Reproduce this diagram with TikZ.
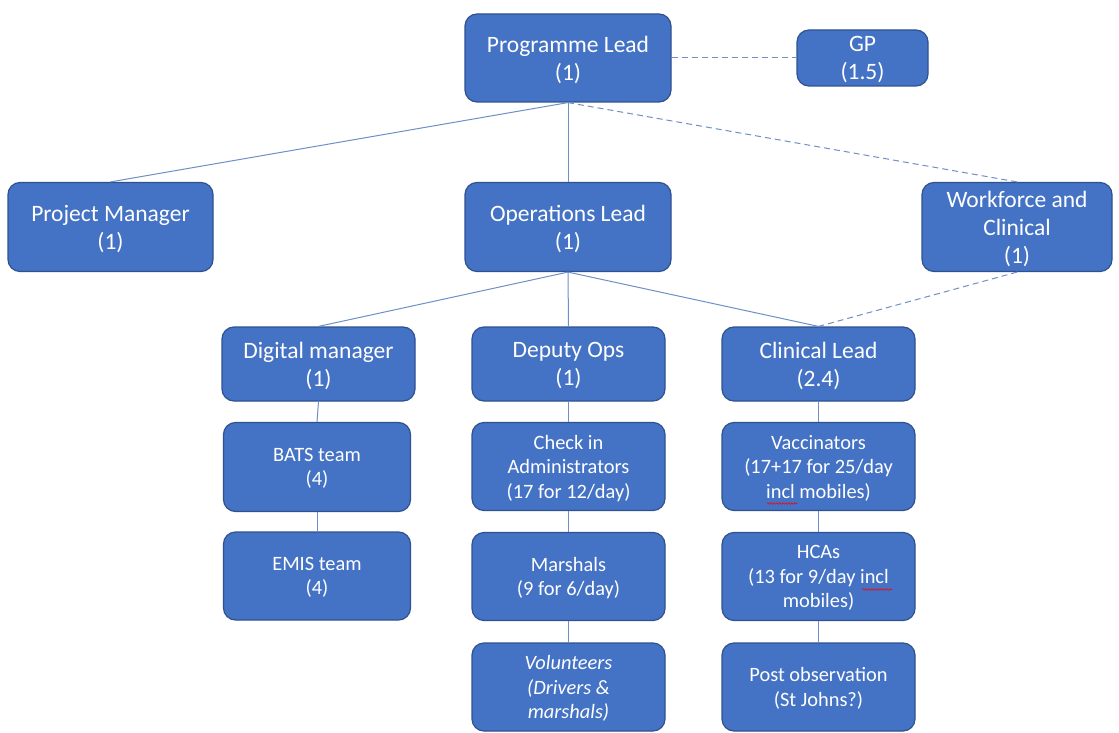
\documentclass[tikz,border=0pt]{standalone}
\usepackage{xcolor}
\usepackage{fontspec}
\setmainfont{Carlito}
\usetikzlibrary{decorations.pathmorphing}
\definecolor{boxfill}{HTML}{4472C4}
\definecolor{boxline}{HTML}{2F528F}
\definecolor{linkcol}{HTML}{6F8FC8}

\begin{document}
\begin{tikzpicture}[x=1pt,y=-1pt,
    box/.style={draw=boxline, fill=boxfill, line width=1.2pt, rounded corners=12pt,
      text=white, align=center, inner sep=0pt, text depth=-6pt},
    bigbox/.style={box, font=\fontsize{23.5}{28}\selectfont},
    smallbox/.style={box, font=\fontsize{20.4}{24.5}\selectfont},
    link/.style={draw=linkcol, line width=1pt},
    dlink/.style={link, dash pattern=on 6pt off 4pt},
    spellwave/.style={draw=red, line width=0.6pt, decorate,
      decoration={snake, amplitude=0.8pt, segment length=3pt}}]
    \useasboundingbox[fill=white] (0,0) rectangle (1119,733);

    % 第一层
    \node[bigbox, minimum width=206pt, minimum height=88pt] (prog) at (568,58) {Programme Lead\\(1)};
    \node[bigbox, minimum width=131pt, minimum height=56pt] (gp) at (862.5,58) {GP\\(1.5)};

    % 第二层
    \node[bigbox, minimum width=205pt, minimum height=89pt] (pm) at (110.5,227) {Project Manager\\(1)};
    \node[bigbox, minimum width=206pt, minimum height=89pt] (ops) at (568,227) {Operations Lead\\(1)};
    \node[bigbox, minimum width=190pt, minimum height=89pt] (wf) at (1017,227) {Workforce and\\Clinical\\(1)};

    % 第三层
    \node[bigbox, minimum width=193pt, minimum height=74pt] (dig) at (318.5,364) {Digital manager\\(1)};
    \node[bigbox, minimum width=193pt, minimum height=74pt] (dep) at (568.5,364) {Deputy Ops\\(1)};
    \node[bigbox, minimum width=193pt, minimum height=74pt] (cl) at (818.5,364) {Clinical Lead\\(2.4)};

    % 各组成员
    \node[smallbox, minimum width=187pt, minimum height=89pt] (bats) at (317,467) {BATS team\\(4)};
    \node[smallbox, minimum width=187pt, minimum height=88pt] (emis) at (317,576) {EMIS team\\(4)};
    \node[smallbox, minimum width=193pt, minimum height=88pt] (chk) at (568.5,466.5) {Check in\\Administrators\\(17 for 12/day)};
    \node[smallbox, minimum width=193pt, minimum height=88pt] (mar) at (568.5,576.5) {Marshals\\(9 for 6/day)};
    \node[smallbox, minimum width=193pt, minimum height=88pt, font=\fontsize{20.4}{24.5}\selectfont\itshape] (vol) at (568.5,687) {Volunteers\\(Drivers \&\\marshals)};
    \node[smallbox, minimum width=193pt, minimum height=88pt] (vac) at (818.5,466.5) {Vaccinators\\(17+17 for 25/day\\incl mobiles)};
    \node[smallbox, minimum width=193pt, minimum height=88pt] (hca) at (818.5,576.5) {HCAs\\(13 for 9/day incl\\mobiles)};
    \node[smallbox, minimum width=193pt, minimum height=88pt] (post) at (818.5,687) {Post observation\\(St Johns?)};

    % 拼写标记
    \draw[spellwave] (767,503.5) -- (797,503.5);
    \draw[spellwave] (862,589.5) -- (892,589.5);

    % 连线
    \draw[dlink] (prog.east) -- (gp.west);
    \draw[link] (prog.south) -- (pm.north);
    \draw[link] (prog.south) -- (ops.north);
    \draw[dlink] (prog.south) -- (wf.north);
    \draw[link] (ops.south) -- (dig.north);
    \draw[link] (ops.south) -- (dep.north);
    \draw[link] (ops.south) -- (cl.north);
    \draw[dlink] (wf.south) -- (cl.north);
    \draw[link] (dig.south) -- (bats.north);
    \draw[link] (bats.south) -- (emis.north);
    \draw[link] (dep.south) -- (chk.north);
    \draw[link] (chk.south) -- (mar.north);
    \draw[link] (mar.south) -- (vol.north);
    \draw[link] (cl.south) -- (vac.north);
    \draw[link] (vac.south) -- (hca.north);
    \draw[link] (hca.south) -- (post.north);

\end{tikzpicture}
\end{document}
